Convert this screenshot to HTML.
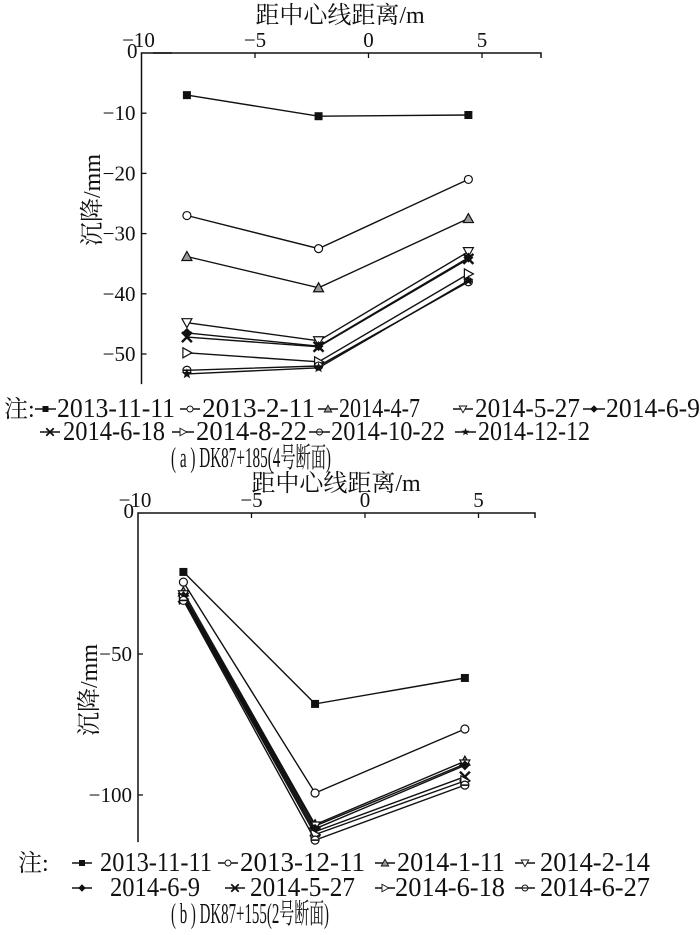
<!DOCTYPE html>
<html><head><meta charset="utf-8"><style>
html,body{margin:0;padding:0;background:#fff;}
svg{display:block;font-family:"Liberation Serif","Noto Serif CJK SC",serif;}
</style></head><body>
<svg id="s" width="700" height="935" viewBox="0 0 700 935"></svg>
<script>
// ---------- Chart (a) data ----------
const xCatsA = [-8.0, -2.2, 4.4];
const seriesNamesA = ["2013-11-11","2013-2-11","2014-4-7","2014-5-27","2014-6-9","2014-6-18","2014-8-22","2014-10-22","2014-12-12"];
const markersA = ["square","circle","tri","dtri","diamond","cross","rtri","circline","star"];
const valsA0 = [-7, -10.5, -10.3];
const valsA1 = [-27, -32.5, -21];
const valsA2 = [-33.8, -39, -27.5];
const valsA3 = [-44.8, -47.8, -33];
const valsA4 = [-46.5, -48.7, -34];
const valsA5 = [-47.2, -48.8, -34.2];
const valsA6 = [-49.8, -51.3, -36.7];
const valsA7 = [-52.7, -52, -38];
const valsA8 = [-53.3, -52.3, -37.8];
const xTicksA = [-10, -5, 0, 5];
const yTicksA = [0, -10, -20, -30, -40, -50];
// ---------- Chart (b) data ----------
const xCatsB = [-8.0, -2.2, 4.4];
const seriesNamesB = ["2013-11-11","2013-12-11","2014-1-11","2014-2-14","2014-6-9","2014-5-27","2014-6-18","2014-6-27"];
const markersB = ["square","circle","tri","dtri","diamond","cross","rtri","circline"];
const valsB0 = [-20.9, -67.7, -58.5];
const valsB1 = [-24.5, -99.3, -76.6];
const valsB2 = [-28, -110.5, -88];
const valsB3 = [-29, -111, -89];
const valsB4 = [-29.5, -112, -89.5];
const valsB5 = [-30, -113, -93.5];
const valsB6 = [-30.5, -114, -95];
const valsB7 = [-31, -116, -96.5];
const xTicksB = [-10, -5, 0, 5];
const yTicksB = [0, -50, -100];

const NS="http://www.w3.org/2000/svg";
const svg=document.getElementById('s');
function mk(tag,attrs,parent){const e=document.createElementNS(NS,tag);for(const k in attrs)e.setAttribute(k,attrs[k]);(parent||svg).appendChild(e);return e;}
function txt(s,x,y,size,anchor,parent){const t=mk('text',{x:x,y:y,'font-size':size+'px','text-anchor':anchor||'start',fill:'#111'},parent);t.textContent=s;return t;}

function marker(type,x,y,g){
  const st={stroke:'#111','stroke-width':1.2};
  let e;
  if(type==='square') e=mk('rect',{x:x-4,y:y-4,width:8,height:8,fill:'#111'},g);
  else if(type==='circle') e=mk('circle',Object.assign({cx:x,cy:y,r:4,fill:'#fff'},st),g);
  else if(type==='tri') e=mk('polygon',Object.assign({points:`${x},${y-5} ${x-5},${y+4} ${x+5},${y+4}`,fill:'#999'},st),g);
  else if(type==='dtri') e=mk('polygon',Object.assign({points:`${x-5},${y-4} ${x+5},${y-4} ${x},${y+5}`,fill:'#fff'},st),g);
  else if(type==='diamond') e=mk('polygon',{points:`${x},${y-5} ${x+5},${y} ${x},${y+5} ${x-5},${y}`,fill:'#111'},g);
  else if(type==='cross'){e=mk('path',{d:`M${x-5},${y-5}L${x+5},${y+5}M${x+5},${y-5}L${x-5},${y+5}`,stroke:'#111','stroke-width':2.4},g);}
  else if(type==='rtri') e=mk('polygon',Object.assign({points:`${x-4},${y-5} ${x+5},${y} ${x-4},${y+5}`,fill:'#fff'},st),g);
  else if(type==='circline'){e=mk('circle',Object.assign({cx:x,cy:y,r:4,fill:'#fff'},st),g);mk('line',{x1:x-4,y1:y,x2:x+4,y2:y,stroke:'#111','stroke-width':1.6},g);}
  else if(type==='star'){let p=[];for(let i=0;i<10;i++){const r=i%2?2.3:5.5,a=-Math.PI/2+i*Math.PI/5;p.push((x+r*Math.cos(a)).toFixed(1)+','+(y+r*Math.sin(a)).toFixed(1));}e=mk('polygon',{points:p.join(' '),fill:'#111'},g);}
  
  
}

function chart(cfg){
  const g=mk('g',{});
  
  
  const X=v=>cfg.x0+(v-(-10))*cfg.xs;
  const Y=v=>cfg.y0-v*cfg.ys;
  const yb=Y(cfg.ymin);
  const xr=cfg.xRight;
  const ax=mk('path',{d:`M${X(-10)},${yb}L${X(-10)},${cfg.y0}L${xr},${cfg.y0}L${xr},${cfg.y0+5}`,fill:'none',stroke:'#111','stroke-width':1.5},g);
  
  
  cfg.xTicks.forEach(v=>{
    if(v>-10) mk('line',{x1:X(v),y1:cfg.y0,x2:X(v),y2:cfg.y0+5,stroke:'#111','stroke-width':1.3},g);
    const t=txt(v<0?'\u2212'+Math.abs(v):String(v),X(v)+(v===-10?-3:0),cfg.y0-6,21,'middle',g);
    
    
  });
  cfg.yTicks.forEach(v=>{
    if(v<0) mk('line',{x1:X(-10),y1:Y(v),x2:X(-10)+5,y2:Y(v),stroke:'#111','stroke-width':1.3},g);
    const t=txt(v<0?'\u2212'+Math.abs(v):'0',X(-10)-(v===0?4:6),Y(v)+(v===0?5:7),21,'end',g);
    
    
  });
  const xt=txt('距中心线距离/m',cfg.titleX,cfg.titleY,24,'middle',g);
  
  
  const yt=txt('沉降/mm',0,0,24,'middle',g);
  yt.setAttribute('transform',`translate(${cfg.yTitleX},${cfg.yTitleY}) rotate(-90)`);
  
  
  cfg.series.forEach((vals,i)=>{
    const sg=mk('g',{},g);
    
    
    const pts=vals.map((v,j)=>X(cfg.cats[j]).toFixed(1)+','+Y(v).toFixed(1)).join(' ');
    const pl=mk('polyline',{points:pts,fill:'none',stroke:'#111','stroke-width':1.4},sg);
    
    
    vals.forEach((v,j)=>marker(cfg.markers[i],X(cfg.cats[j]),Y(v),sg));
  });
}

chart({name:'chart-a',x0:141.5,xs:22.7,y0:53,ys:6.02,ymin:-55,xRight:541,xTicks:xTicksA,yTicks:yTicksA,
  titleX:340,titleY:23,yTitleX:100,yTitleY:200,cats:xCatsA,
  series:[valsA0,valsA1,valsA2,valsA3,valsA4,valsA5,valsA6,valsA7,valsA8],names:seriesNamesA,markers:markersA});
mk('line',{x1:153,y1:53,x2:172,y2:53,stroke:'#111','stroke-width':1.5});
chart({name:'chart-b',x0:138,xs:22.7,y0:513,ys:2.82,ymin:-116.7,xRight:535,xTicks:xTicksB,yTicks:yTicksB,
  titleX:336,titleY:491,yTitleX:97,yTitleY:690,cats:xCatsB,
  series:[valsB0,valsB1,valsB2,valsB3,valsB4,valsB5,valsB6,valsB7],names:seriesNamesB,markers:markersB});

function legend(items,y){
  items.forEach(it=>{
    const g=mk('g',{});
    
    
    mk('line',{x1:it[0],y1:y-8,x2:it[1],y2:y-8,stroke:'#111','stroke-width':1.4},g);
    const m=mk('g',{},g);
    marker(it[5],(it[0]+it[1])/2,y-8,m);
    m.setAttribute('transform',`translate(${(it[0]+it[1])/2},${y-8}) scale(0.75) translate(${-(it[0]+it[1])/2},${-(y-8)})`);
    const t=txt(it[4],it[2],y,27,'start',g);
    t.setAttribute('textLength',it[3]-it[2]);
    t.setAttribute('lengthAdjust','spacingAndGlyphs');
  });
}
const n1=txt('注:',4,417,24);


legend([[35,56,57,175,seriesNamesA[0],markersA[0]],[180,200,202,315,seriesNamesA[1],markersA[1]],[318,338,339,420,seriesNamesA[2],markersA[2]],
  [453,473,475,580,seriesNamesA[3],markersA[3]],[583,605,606,700,seriesNamesA[4],markersA[4]]],417);
legend([[40,60,63,165,seriesNamesA[5],markersA[5]],[172,194,196,307,seriesNamesA[6],markersA[6]],[309,330,331,445,seriesNamesA[7],markersA[7]],
  [455,476,478,590,seriesNamesA[8],markersA[8]]],440);
const ca=txt('( a ) DK87+185(4号断面)',171,467,28,'start');
ca.setAttribute('textLength',160);
ca.setAttribute('lengthAdjust','spacingAndGlyphs');



const n2=txt('注:',18,871,24);


legend([[72,92,100,212,seriesNamesB[0],markersB[0]],[218,238,240,365,seriesNamesB[1],markersB[1]],[375,395,397,505,seriesNamesB[2],markersB[2]],
  [515,535,540,650,seriesNamesB[3],markersB[3]]],871);
legend([[72,92,110,200,seriesNamesB[4],markersB[4]],[225,245,250,355,seriesNamesB[5],markersB[5]],[375,395,395,505,seriesNamesB[6],markersB[6]],
  [515,535,540,650,seriesNamesB[7],markersB[7]]],896);
const cb=txt('( b ) DK87+155(2号断面)',171,923,28,'start');
cb.setAttribute('textLength',158);
cb.setAttribute('lengthAdjust','spacingAndGlyphs');


</script>
</body></html>
